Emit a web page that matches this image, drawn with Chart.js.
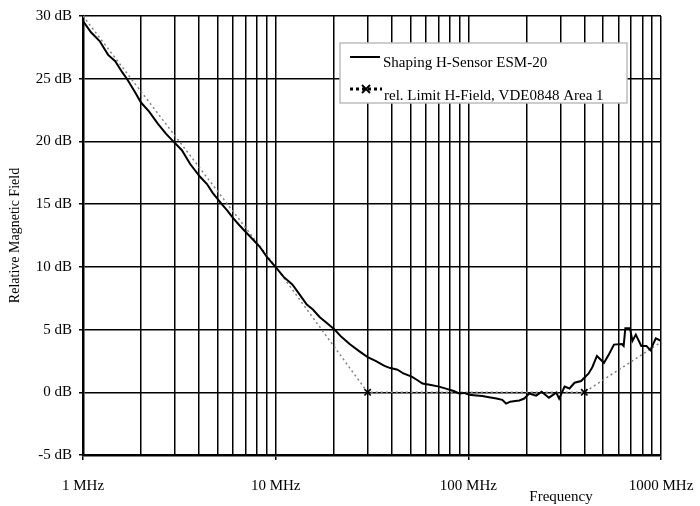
<!DOCTYPE html>
<html>
<head>
<meta charset="utf-8">
<script src="https://cdn.jsdelivr.net/npm/chart.js@4/dist/chart.umd.min.js"></script>
<style>
  html, body { margin: 0; padding: 0; background: #fff; }
  #wrap { width: 700px; height: 506px; }
</style>
</head>
<body>
<div id="wrap"><canvas id="c" width="700" height="506"></canvas></div>
<script>
// Measured response of the shaping H-field sensor (frequency in MHz, level in dB)
const sensorFreq = [1.0, 1.1, 1.22, 1.35, 1.47, 1.6, 1.69, 1.85, 2.0, 2.2, 2.45, 2.7, 2.9, 3.26, 3.6, 4.04, 4.4, 4.71, 5.25, 5.6,
  6.0, 6.5, 7.07, 7.6, 8.27, 9.0, 10.1, 11.0, 12.2, 13.3, 14.5, 15.6, 16.9, 18.5, 20.2, 22, 24.2, 27, 30, 33,
  36.7, 39, 42.9, 46, 50.8, 54, 57.8, 63, 70.5, 78, 84, 89.7, 95, 101, 110, 118, 128, 140, 150, 157,
  165, 175, 184, 195, 207, 225, 240, 262, 286, 296, 316, 335, 356, 385, 421, 440, 465, 506, 538, 570,
  627, 640, 653, 690, 711, 740, 790, 840, 880, 940, 1000];
const sensorDb = [29.6, 28.7, 28.0, 26.9, 26.4, 25.5, 25.0, 24.0, 23.1, 22.4, 21.4, 20.6, 20.1, 19.3, 18.2, 17.2, 16.6, 15.9, 15.0, 14.5,
  13.9, 13.3, 12.7, 12.2, 11.6, 10.8, 9.9, 9.2, 8.6, 7.8, 7.0, 6.6, 6.0, 5.5, 5.0, 4.4, 3.85, 3.3, 2.8, 2.5,
  2.1, 1.95, 1.8, 1.5, 1.25, 1.0, 0.7, 0.6, 0.45, 0.25, 0.1, -0.1, -0.05, -0.2, -0.25, -0.3, -0.4, -0.5, -0.6, -0.9,
  -0.75, -0.7, -0.65, -0.5, -0.1, -0.27, 0.05, -0.43, -0.03, -0.5, 0.45, 0.3, 0.76, 0.9, 1.5, 2.0, 2.9, 2.35, 3.05, 3.8,
  3.85, 3.7, 5.1, 5.1, 4.1, 4.6, 3.7, 3.7, 3.35, 4.3, 4.1];

// Relative H-field limit, VDE0848 Area 1
const limitFreq = [1, 10, 30, 400, 1000];
const limitDb = [30, 10, 0, 0, 4];
const limitMarked = [false, false, true, true, false];

// Axis ticks
const decades = [1, 10, 100, 1000];
const decadeLabels = ['1 MHz', '10 MHz', '100 MHz', '1000 MHz'];
const yTicks = [-5, 0, 5, 10, 15, 20, 25, 30];

const seriesNames = ['Shaping H-Sensor ESM-20', 'rel. Limit H-Field, VDE0848 Area 1'];
const xTitle = 'Frequency';
const yTitle = 'Relative Magnetic Field';

const FONT = "'Liberation Serif', 'Times New Roman', serif";
Chart.defaults.font.family = FONT;
Chart.defaults.font.size = 15;
Chart.defaults.color = '#000';

// every 1..9 multiple inside each decade
const xGridValues = [];
for (let d = 0; d < decades.length - 1; d++) {
  for (let m = 1; m <= 9; m++) xGridValues.push(decades[d] * m);
}
xGridValues.push(decades[decades.length - 1]);
const isDecade = v => decades.some(d => Math.abs(d - v) < 1e-9);

// legend box and free-standing x title
const overlayPlugin = {
  id: 'overlay',
  afterDraw(chart) {
    const ctx = chart.ctx;
    ctx.save();
    // legend frame
    ctx.fillStyle = '#fff';
    ctx.fillRect(340, 43, 287, 60);
    ctx.strokeStyle = '#bdbdbd';
    ctx.lineWidth = 1.5;
    ctx.strokeRect(340, 43, 287, 60);
    // solid sample
    ctx.strokeStyle = '#000';
    ctx.lineWidth = 2;
    ctx.beginPath(); ctx.moveTo(350, 57); ctx.lineTo(380, 57); ctx.stroke();
    // dotted sample with cross
    ctx.setLineDash([3, 3]);
    ctx.lineWidth = 3;
    ctx.beginPath(); ctx.moveTo(350, 89); ctx.lineTo(382, 89); ctx.stroke();
    ctx.setLineDash([]);
    ctx.lineWidth = 1.8;
    ctx.beginPath();
    ctx.moveTo(362, 85); ctx.lineTo(370, 93);
    ctx.moveTo(370, 85); ctx.lineTo(362, 93);
    ctx.stroke();
    // legend text
    ctx.fillStyle = '#000';
    ctx.font = '15px ' + FONT;
    ctx.textAlign = 'left';
    ctx.textBaseline = 'middle';
    ctx.fillText(seriesNames[0], 383, 63);
    ctx.fillText(seriesNames[1], 384, 96);
    // x axis title
    ctx.textAlign = 'center';
    ctx.fillText(xTitle, 561, 497);
    ctx.restore();
  }
};

new Chart(document.getElementById('c'), {
  type: 'line',
  data: {
    datasets: [
      {
        label: seriesNames[0],
        data: sensorFreq.map((f, i) => ({ x: f, y: sensorDb[i] })),
        borderColor: '#000',
        borderWidth: 2,
        pointRadius: 0,
        tension: 0,
        order: 1
      },
      {
        label: seriesNames[1],
        data: limitFreq.map((f, i) => ({ x: f, y: limitDb[i] })),
        borderColor: '#808080',
        borderWidth: 1.5,
        borderDash: [2, 3],
        pointStyle: 'crossRot',
        pointRadius: limitMarked.map(m => m ? 4.5 : 0),
        pointBorderColor: '#000',
        pointBorderWidth: 1.6,
        tension: 0,
        order: 2
      }
    ]
  },
  options: {
    responsive: false,
    animation: false,
    layout: { padding: { left: 0, right: 39, top: 11, bottom: 0 } },
    plugins: { legend: { display: false }, tooltip: { enabled: false } },
    scales: {
      x: {
        type: 'logarithmic',
        min: 1,
        max: 1000,
        afterBuildTicks: s => { s.ticks = xGridValues.map(v => ({ value: v })); },
        afterFit: s => { s.height = 51; s.paddingRight = 30; s.paddingLeft = 30; },
        ticks: {
          autoSkip: false,
          maxRotation: 0,
          padding: 17,
          callback: v => { const i = decades.findIndex(d => Math.abs(d - v) < 1e-9); return i >= 0 ? decadeLabels[i] : ''; }
        },
        grid: {
          color: '#000',
          lineWidth: 1.5,
          tickLength: 5,
          tickColor: c => isDecade(c.tick.value) ? '#000' : 'rgba(0,0,0,0)'
        },
        border: { color: '#000', width: 2.5 }
      },
      y: {
        min: -5,
        max: 30,
        afterBuildTicks: s => { s.ticks = yTicks.map(v => ({ value: v })); },
        afterFit: s => { s.width = 83; },
        ticks: { padding: 7, callback: v => v + ' dB' },
        grid: { color: '#000', lineWidth: 1.5, tickLength: 4, tickColor: '#000' },
        border: { color: '#000', width: 2.5 },
        title: { display: true, text: yTitle, font: { size: 14 }, padding: { top: 7, bottom: 0 } }
      }
    }
  },
  plugins: [overlayPlugin]
});
</script>
</body>
</html>
